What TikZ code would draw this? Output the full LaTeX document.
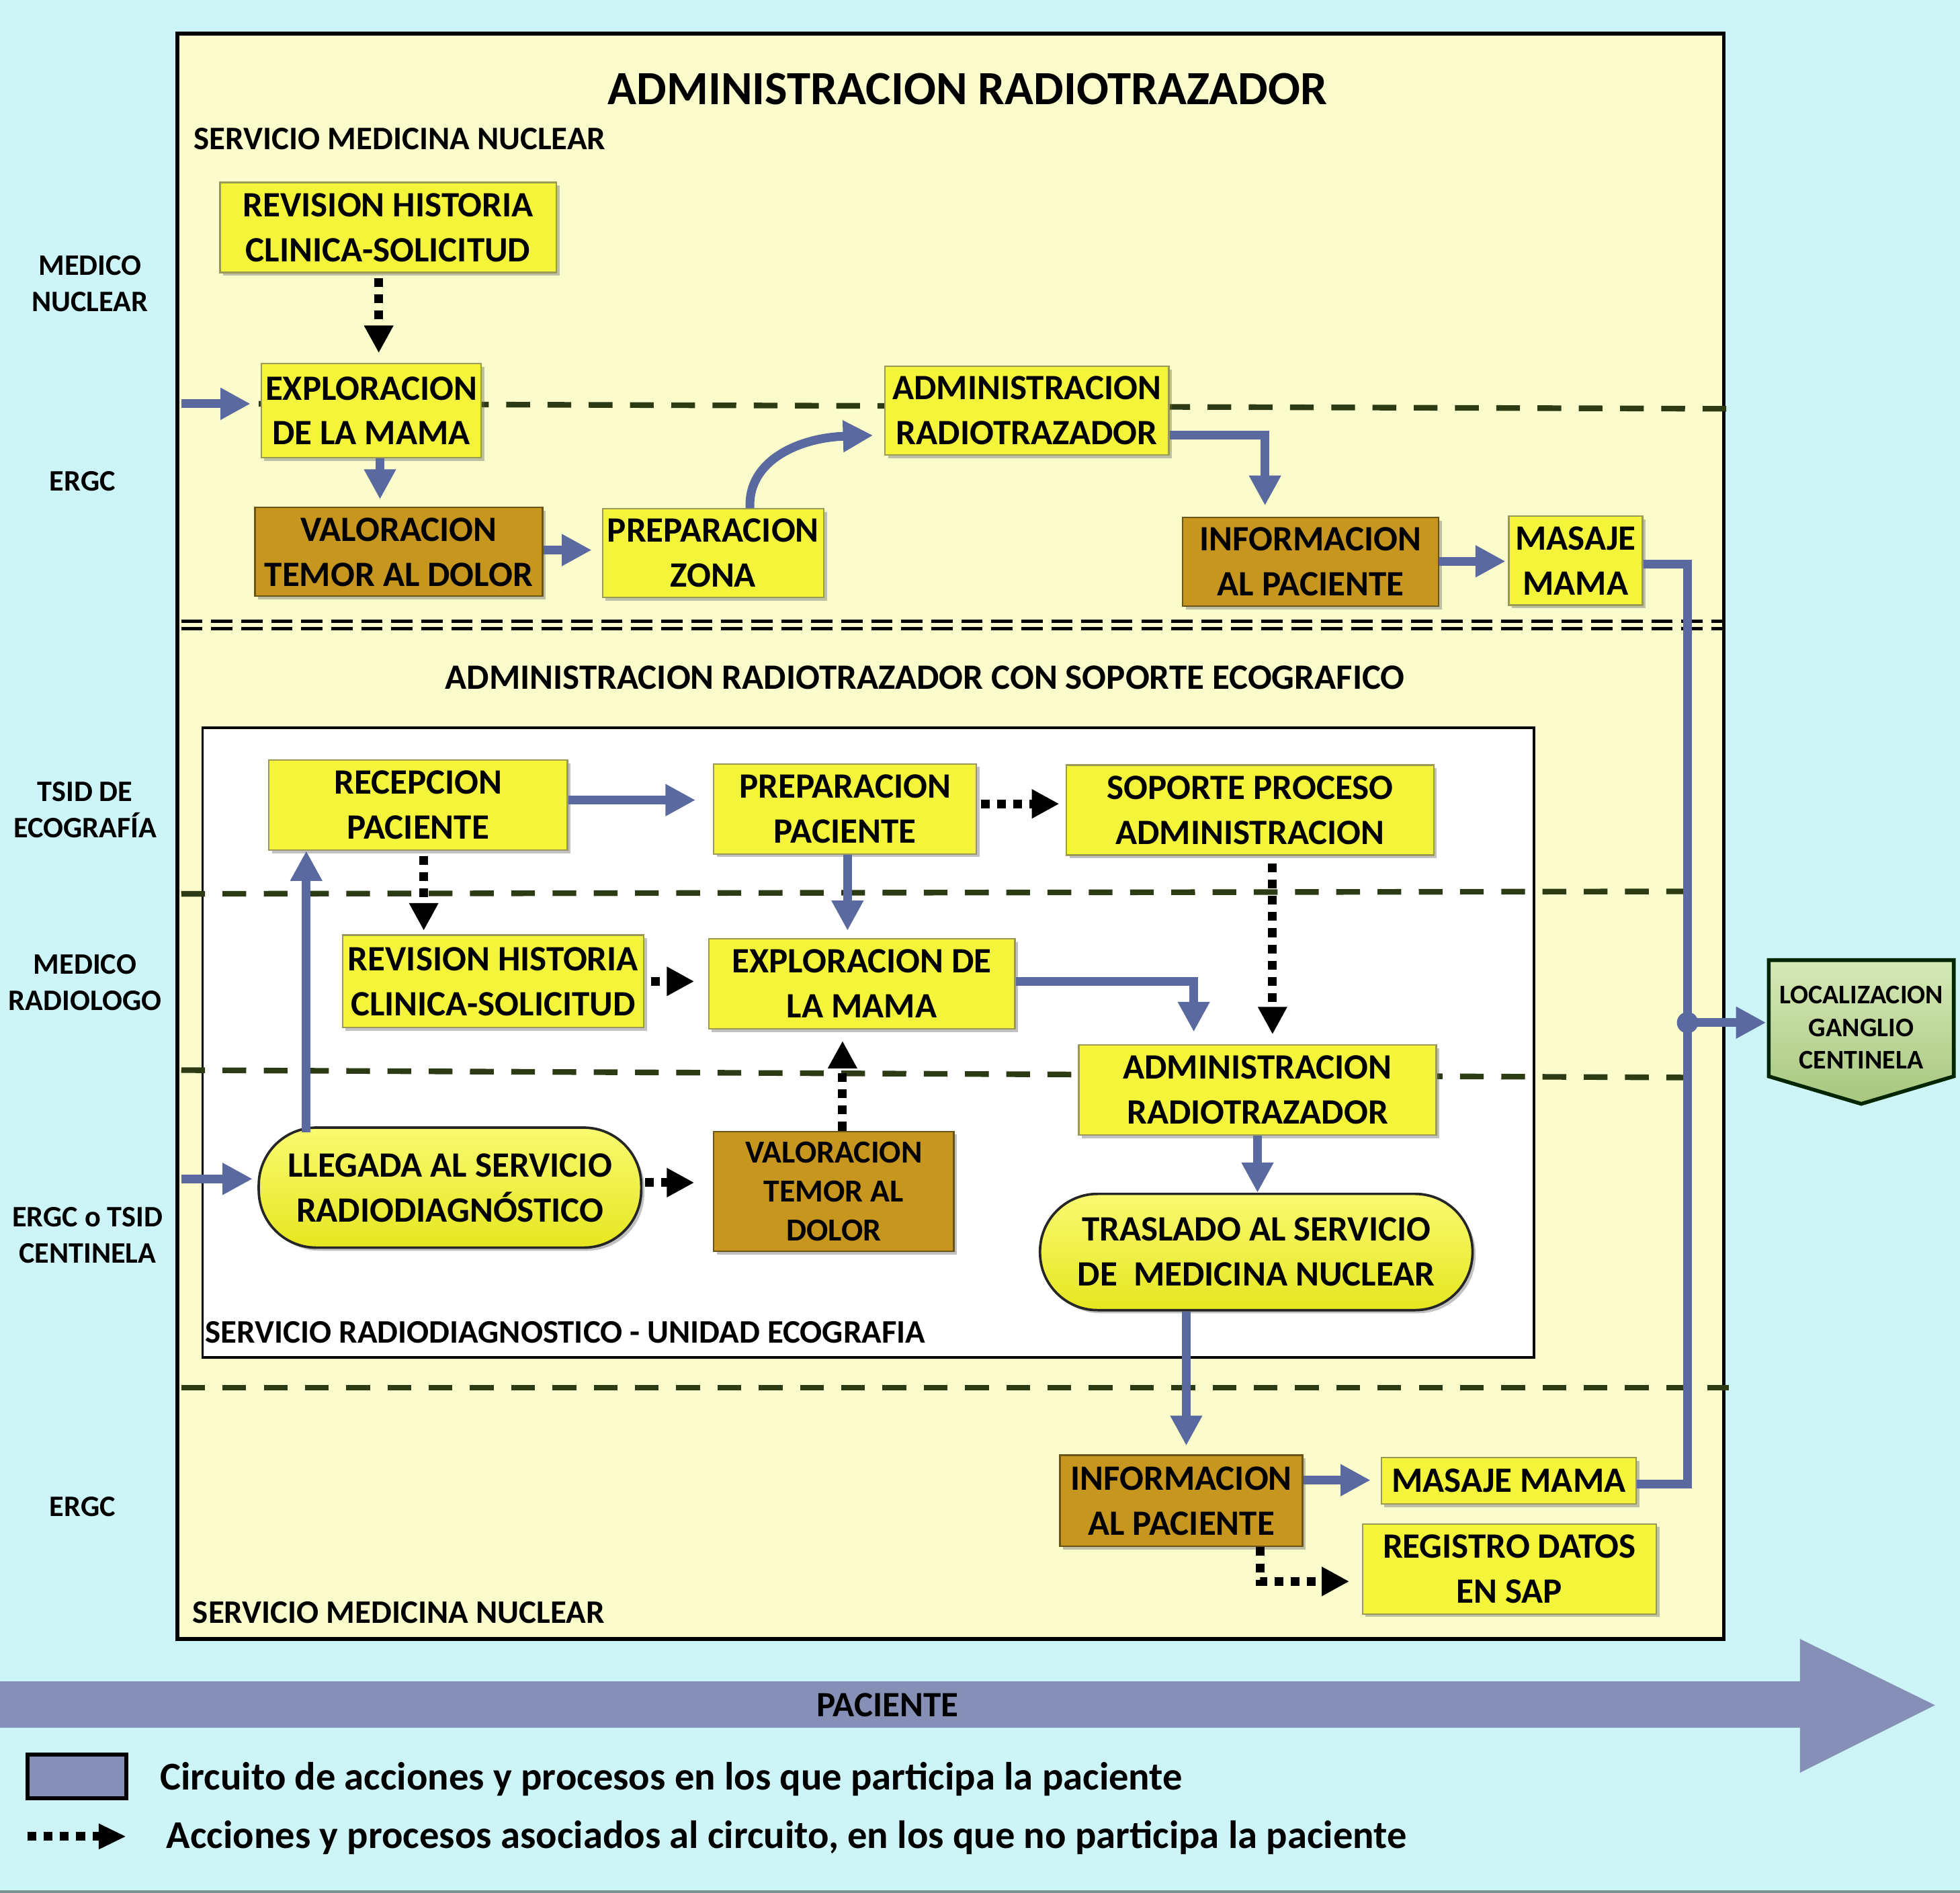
\documentclass[tikz,border=0pt]{standalone}
\usepackage{fontspec}
\setmainfont{Carlito}
\usetikzlibrary{arrows.meta,shadows}
\definecolor{bgcyan}{HTML}{CDF4F7}
\definecolor{frameyel}{HTML}{FAFCCC}
\definecolor{boxyel}{HTML}{F4F53A}
\definecolor{boxedge}{HTML}{9A9A55}
\definecolor{boxbrown}{HTML}{C6961F}
\definecolor{brownedge}{HTML}{6B5418}
\definecolor{arrblue}{HTML}{5A69A0}
\definecolor{patblue}{HTML}{8690B6}
\definecolor{dashgreen}{HTML}{2D3B14}
\definecolor{locgreenA}{HTML}{D6E9B8}
\definecolor{locgreenB}{HTML}{A7C67E}
\definecolor{pilltop}{HTML}{F9FA70}
\definecolor{pillbot}{HTML}{E6E620}
\pgfdeclarelayer{back}
\pgfsetlayers{back,main}
\begin{document}
\begin{tikzpicture}[x=1pt,y=-1pt,
  boxfont/.style={font=\fontsize{28.5}{36}\selectfont\bfseries},
  ybox/.style={draw=boxedge, line width=1.2pt, fill=boxyel, inner sep=0pt, align=center, boxfont,
    drop shadow={shadow xshift=2.5pt, shadow yshift=-2.5pt, opacity=0.4, fill=black!60}},
  bbox/.style={ybox, fill=boxbrown, draw=brownedge},
  pill/.style={ybox, draw=black!85, line width=2pt, rounded corners=46pt, top color=pilltop, bottom color=pillbot},
  sz/.style 2 args={minimum width=#1pt, minimum height=#2pt},
  barrow/.style={draw=arrblue, line width=7pt, -{Triangle[width=24pt,length=24pt]}},
  bline/.style={draw=arrblue, line width=7pt},
  darrow/.style={draw=black, line width=7pt, dash pattern=on 7pt off 6pt, -{Triangle[width=22pt,length=22pt]}},
  sepline/.style={draw=dashgreen, line width=4.5pt, dash pattern=on 19pt off 14pt},
  lbl/.style={font=\fontsize{23.8}{29}\selectfont\bfseries, align=center, inner sep=0pt},
  sect/.style={font=\fontsize{26.3}{30}\selectfont\bfseries, anchor=west, inner sep=0pt},
  legtext/.style={anchor=west, font=\fontsize{31.5}{34}\selectfont\bfseries, inner sep=0pt}]
\useasboundingbox (0,0) rectangle (1568,1514);

\begin{pgfonlayer}{back}
\fill[bgcyan] (0,0) rectangle (1568,1514);
\draw[line width=2pt, draw=black!40!bgcyan] (0,1513) -- (1568,1513);
\draw[line width=3pt, fill=frameyel] (142,27) rectangle (1379,1311);
\draw[line width=2pt, fill=white] (162,582) rectangle (1227,1086);
\draw[sepline] (207,323) -- (1383,327);
\draw[line width=2.5pt, dash pattern=on 17pt off 7pt] (145,497) -- (1378,497);
\draw[line width=2.5pt, dash pattern=on 17pt off 7pt] (145,503) -- (1378,503);
\draw[sepline] (145,715) -- (1365,713);
\draw[sepline] (145,856) -- (1365,862);
\draw[sepline] (145,1110) -- (1383,1110);
\end{pgfonlayer}

% titles
\node[font=\fontsize{38.1}{40}\selectfont\bfseries, inner sep=0pt] (title) at (774,71) {ADMINISTRACION RADIOTRAZADOR};
\node[sect] (smn1) at (155,111) {SERVICIO MEDICINA NUCLEAR};
\node[font=\fontsize{28.5}{30}\selectfont\bfseries, inner sep=0pt] (sub) at (740,542) {ADMINISTRACION RADIOTRAZADOR CON SOPORTE ECOGRAFICO};
\node[sect] (srd) at (164,1066) {SERVICIO RADIODIAGNOSTICO - UNIDAD ECOGRAFIA};
\node[sect] (smn2) at (154,1290) {SERVICIO MEDICINA NUCLEAR};

% lane labels
\node[lbl] (l1) at (72,227) {MEDICO\\NUCLEAR};
\node[lbl] (l2) at (66,385) {ERGC};
\node[lbl] (l3) at (68,648) {TSID DE\\ECOGRAFÍA};
\node[lbl] (l4) at (68,786) {MEDICO\\RADIOLOGO};
\node[lbl] (l5) at (70,988) {ERGC o TSID\\CENTINELA};
\node[lbl] (l6) at (66,1205) {ERGC};

% boxes
\node[ybox, sz={269}{72}] (rev1) at (310.5,182) {REVISION HISTORIA\\CLINICA-SOLICITUD};
\node[ybox, sz={176}{75}] (exp1) at (297,328.5) {EXPLORACION\\DE LA MAMA};
\node[bbox, sz={230}{71}] (val1) at (319,441.5) {VALORACION\\TEMOR AL DOLOR};
\node[ybox, sz={177}{71}] (prep1) at (570.5,442.5) {PREPARACION\\ZONA};
\node[ybox, sz={227}{71}] (adm1) at (821.5,328.5) {ADMINISTRACION\\RADIOTRAZADOR};
\node[bbox, sz={205}{71}] (inf1) at (1048.5,449.5) {INFORMACION\\AL PACIENTE};
\node[ybox, sz={107}{71}] (mas1) at (1260.5,448.5) {MASAJE\\MAMA};
\node[ybox, sz={239}{72}] (rec) at (334.5,644) {RECEPCION\\PACIENTE};
\node[ybox, sz={210}{72}] (prep2) at (676,647) {PREPARACION\\PACIENTE};
\node[ybox, sz={294}{72}] (sop) at (1000,648) {SOPORTE PROCESO\\ADMINISTRACION};
\node[ybox, sz={241}{74}] (rev2) at (394.5,785) {REVISION HISTORIA\\CLINICA-SOLICITUD};
\node[ybox, sz={245}{72}] (exp2) at (689.5,787) {EXPLORACION DE\\LA MAMA};
\node[ybox, sz={286}{72}] (adm2) at (1006,872) {ADMINISTRACION\\RADIOTRAZADOR};
\node[pill, sz={306}{96}] (lleg) at (360,950) {LLEGADA AL SERVICIO\\RADIODIAGNÓSTICO};
\node[bbox, sz={192}{96}, font=\fontsize{25.7}{31}\selectfont\bfseries] (val2) at (667,953) {VALORACION\\TEMOR AL\\DOLOR};
\node[pill, sz={346}{93}] (tras) at (1005,1001.5) {TRASLADO AL SERVICIO\\DE\ \ MEDICINA NUCLEAR};
\node[bbox, sz={194}{73}] (inf2) at (945,1200.5) {INFORMACION\\AL PACIENTE};
\node[ybox, sz={204}{37}] (mas2) at (1207,1184.5) {MASAJE MAMA};
\node[ybox, sz={235}{72}] (reg) at (1207.5,1255) {REGISTRO DATOS\\EN SAP};

% localizacion
\path[draw=black!85!green, line width=3pt, top color=locgreenA, bottom color=locgreenB]
  (1415,768) -- (1563,768) -- (1563,861) -- (1489,883) -- (1415,861) -- cycle;
\node[font=\fontsize{21.5}{26}\selectfont\bfseries, align=center, inner sep=0pt, minimum width=148pt] (loc) at (1489,822) {LOCALIZACION\\GANGLIO\\CENTINELA};

% blue connectors
\coordinate (in1) at (145,323);
\draw[barrow, shorten >=8pt] (in1) -- (exp1.west |- in1);
\draw[barrow, shorten >=6pt] (304,0 |- exp1.south) -- (304,0 |- val1.north);
\draw[barrow, shorten >=8pt] (val1.east |- 0,440) -- (prep1.west |- 0,440);
\draw[barrow, shorten >=9pt] (600,0 |- prep1.north) .. controls (598,368) and (640,350) .. (adm1.west |- 0,348);
\draw[barrow, shorten >=9pt] (adm1.east |- 0,348) -| (1012,0 |- inf1.north);
\draw[barrow, shorten >=2pt] (inf1.east |- 0,449) -- (mas1.west |- 0,449);
\draw[bline] (mas1.east |- 0,451) -- (1350,451) -- (1350,1187) -- (mas2.east |- 0,1187);
\coordinate (junc) at (1350,818);
\fill[arrblue] (junc) circle (8.5pt);
\draw[barrow, shorten >=2pt] (junc) -- (loc.west |- junc);
\coordinate (in2) at (145,943);
\draw[barrow, shorten >=4pt] (in2) -- (lleg.west |- in2);
\draw[barrow] (245,906) -- (245,0 |- rec.south);
\draw[barrow, shorten >=14pt] (rec.east |- 0,640) -- (prep2.west |- 0,640);
\draw[barrow, shorten >=6pt] (678,0 |- prep2.south) -- (678,0 |- exp2.north);
\draw[barrow, shorten >=10pt] (exp2.east |- 0,785) -| (955,0 |- adm2.north);
\draw[barrow] (1006,0 |- adm2.south) -- (1006,0 |- tras.north);
\draw[barrow, shorten >=7pt] (949,0 |- tras.south) -- (949,0 |- inf2.north);
\draw[barrow, shorten >=8pt] (inf2.east |- 0,1184) -- (mas2.west |- 0,1184);

% dotted connectors
\draw[darrow, shorten <=4pt, shorten >=8pt] (303,0 |- rev1.south) -- (303,0 |- exp1.north);
\draw[darrow, shorten <=4pt, shorten >=3pt] (339,0 |- rec.south) -- (339,0 |- rev2.north);
\draw[darrow, shorten <=3pt, shorten >=5pt] (prep2.east |- 0,643) -- (sop.west |- 0,643);
\draw[darrow, shorten <=5pt, shorten >=11pt] (rev2.east |- 0,785) -- (exp2.west |- 0,785);
\draw[darrow, shorten >=9pt] (674,0 |- val2.north) -- (674,0 |- exp2.south);
\draw[darrow, shorten <=2pt, shorten >=15pt] (lleg.east |- 0,946) -- (val2.west |- 0,946);
\draw[darrow, shorten <=6pt, shorten >=8pt] (1018,0 |- sop.south) -- (1018,0 |- adm2.north);
\draw[darrow, shorten >=10pt] (1008,0 |- inf2.south) |- (reg.west |- 0,1265);

% paciente arrow
\path[fill=patblue] (0,1345) -- (1440,1345) -- (1440,1311) -- (1548,1364) -- (1440,1418) -- (1440,1382) -- (0,1382) -- cycle;
\node[boxfont, inner sep=0pt] (pac) at (710,1364) {PACIENTE};

% legend
\node[draw=black, line width=3pt, fill=patblue, minimum width=79pt, minimum height=35pt, inner sep=0pt] (legbox) at (61.5,1421) {};
\node[legtext] (leg1) at (128,1423) {Circuito de acciones y procesos en los que participa la paciente};
\coordinate (lega) at (22,1469);
\coordinate (legb) at (101,1469);
\draw[darrow, -{Triangle[width=19pt,length=22pt]}] (lega) -- (legb);
\node[legtext] (leg2) at (133,1470) {Acciones y procesos asociados al circuito, en los que no participa la paciente};
\end{tikzpicture}
\end{document}
